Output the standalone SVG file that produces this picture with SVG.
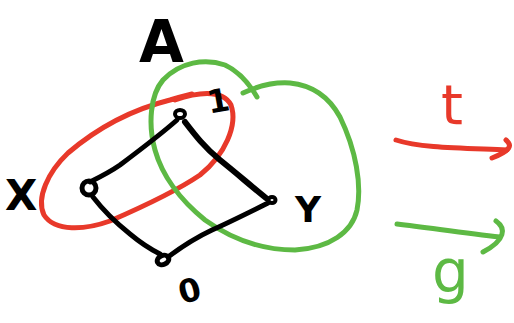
<svg xmlns="http://www.w3.org/2000/svg" width="514" height="323" viewBox="0 0 514 323">
<style>
.k{fill:none;stroke:#000;stroke-width:5;stroke-linecap:round;stroke-linejoin:round}
.r{fill:none;stroke:#E8392A;stroke-width:5;stroke-linecap:round;stroke-linejoin:round}
.g{fill:none;stroke:#5DB944;stroke-width:5;stroke-linecap:round;stroke-linejoin:round}
.lb{font-family:"DejaVu Sans",sans-serif;fill:#000;font-weight:bold}
</style>
<rect width="514" height="323" fill="#fff"/>
<g id="sets">
<path class="r" d="M175,100 C195,93 222,88 231,105 C238,125 225,155 200,175 C175,192 140,208 110,221 C85,230 55,232 44,215 C36,198 48,172 68,153 C95,130 130,110 170,100 C180,97 188,95 192,94"/>
<path class="g" d="M257,97 C250,85 240,72 225,65 C205,58 180,62 163,80 C150,95 148,125 155,150 C162,175 180,200 205,220 C230,238 260,250 295,250 C330,248 352,232 357,210 C362,185 356,150 340,117 C328,95 310,85 290,83 C275,82 258,86 243,93"/>
</g>
<g id="connectors">
<path class="k" d="M177,120 C160,135 140,150 120,165 C110,172 100,177 90,182"/>
<path class="k" style="stroke-width:6" d="M185,122 C195,135 205,148 220,160 C235,172 250,185 266,198"/>
<path class="k" d="M93,197 C103,210 115,222 130,234 C142,244 152,250 160,254"/>
<path class="k" d="M168,257 C180,248 195,238 212,230 C230,222 250,212 268,203"/>
</g>
<g id="n1"><ellipse cx="180" cy="114" rx="5" ry="4" class="k" style="stroke-width:4"/><text class="lb" x="207" y="112" font-size="32" transform="rotate(-10 218 100)">1</text></g>
<g id="nX"><circle cx="89" cy="188" r="7" class="k"/><text class="lb" x="5" y="210" font-size="42">X</text></g>
<g id="nY"><ellipse cx="272" cy="200" rx="3.5" ry="3" class="k" style="stroke-width:4"/><text class="lb" x="295" y="222" font-size="36">Y</text></g>
<g id="n0"><ellipse cx="163" cy="260" rx="6" ry="4.5" class="k" transform="rotate(-25 163 260)"/><text class="lb" x="178" y="301" font-size="32" transform="rotate(-15 192 288)">0</text></g>
<g id="A"><text class="lb" x="139" y="62" font-size="58">A</text></g>
<g id="arrow-t">
<path class="r" d="M396,140 C420,148 460,148 507,150"/>
<path class="r" d="M506,140 C512,145 512,150 492,158"/>
<text x="441" y="124" font-family="DejaVu Sans,sans-serif" font-size="56" fill="#E8392A">t</text>
</g>
<g id="arrow-g">
<path class="g" d="M397,224 C430,228 465,233 500,237"/>
<path class="g" d="M496,221 C506,228 506,240 483,252"/>
<text x="432" y="292" font-family="DejaVu Sans,sans-serif" font-size="58" fill="#5DB944">g</text>
</g>
</svg>
